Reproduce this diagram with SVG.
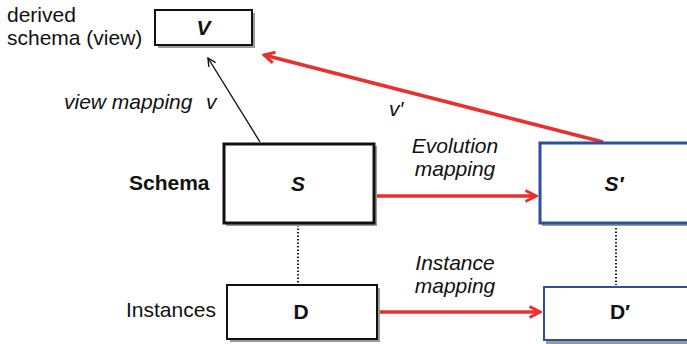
<svg xmlns="http://www.w3.org/2000/svg" width="687" height="344" viewBox="0 0 687 344">
<style>
text{font-family:"Liberation Sans",Arial,sans-serif;font-size:21px;fill:#111}
.it{font-style:italic}
.bi{font-style:italic;font-weight:bold}
.b{font-weight:bold}
.box{fill:#fff;stroke:#111}
.blue{fill:#fff;stroke:#2c4f9e}
.sh{fill:#9a9a9a}
.red{stroke:#e8302e;stroke-width:3.5;fill:none}
.dot{stroke:#222;stroke-width:2;stroke-dasharray:1.5 2;fill:none}
</style>
<defs>
<marker id="ra" viewBox="0 0 14 14" refX="12" refY="7" markerWidth="14" markerHeight="14" markerUnits="userSpaceOnUse" orient="auto">
<path d="M1.5,1.5 L12,7 L1.5,12.5" fill="none" stroke="#e8302e" stroke-width="3"/>
</marker>
<marker id="ka" viewBox="0 0 10 10" refX="9" refY="5" markerWidth="10" markerHeight="10" markerUnits="userSpaceOnUse" orient="auto">
<path d="M1,1 L9,5 L1,9" fill="none" stroke="#111" stroke-width="1.4"/>
</marker>
</defs>
<text x="7" y="22">derived</text>
<text x="7" y="45">schema (view)</text>
<text class="it" x="64" y="109">view mapping</text>
<text class="it" x="206" y="109">v</text>
<text class="it" x="389" y="116">v′</text>
<text class="it" x="455" y="153" text-anchor="middle">Evolution</text>
<text class="it" x="455" y="176" text-anchor="middle">mapping</text>
<text class="b" x="129" y="190">Schema</text>
<text x="126" y="317">Instances</text>
<text class="it" x="455" y="270" text-anchor="middle">Instance</text>
<text class="it" x="455" y="293" text-anchor="middle">mapping</text>
<g id="connectors">
<line class="dot" x1="298" y1="225" x2="298" y2="284"/>
<line class="dot" x1="616" y1="228" x2="616" y2="285"/>
<line x1="260" y1="142" x2="208" y2="58" stroke="#111" stroke-width="1.4" marker-end="url(#ka)"/>
<line class="red" x1="603" y1="142" x2="264" y2="55" marker-end="url(#ra)"/>
<line class="red" x1="376" y1="196" x2="536" y2="196" marker-end="url(#ra)"/>
<line class="red" x1="378" y1="312" x2="540" y2="312" marker-end="url(#ra)"/>
</g>
<g id="node-V">
<rect class="sh" x="158" y="13" width="97" height="35"/>
<rect class="box" x="155" y="10" width="97" height="35" stroke-width="2"/>
<text class="bi" x="203.5" y="35" text-anchor="middle">V</text>
</g>
<g id="node-S">
<rect class="sh" x="226" y="146" width="151" height="80"/>
<rect class="box" x="224" y="144" width="150" height="79" stroke-width="3"/>
<text class="bi" x="298" y="191" text-anchor="middle">S</text>
</g>
<g id="node-S2">
<rect class="sh" x="542" y="145" width="150" height="81"/>
<rect class="blue" x="540" y="143" width="152" height="80" stroke-width="3"/>
<text class="bi" x="614" y="191" text-anchor="middle">S′</text>
</g>
<g id="node-D">
<rect class="sh" x="230" y="288" width="150" height="54"/>
<rect class="box" x="227" y="285" width="150" height="54" stroke-width="2"/>
<text class="b" x="301" y="319" text-anchor="middle">D</text>
</g>
<g id="node-D2">
<rect class="sh" x="546" y="290" width="150" height="54"/>
<rect class="blue" x="544" y="287" width="150" height="53" stroke-width="2"/>
<text class="b" x="620" y="319" text-anchor="middle">D′</text>
</g>
</svg>
